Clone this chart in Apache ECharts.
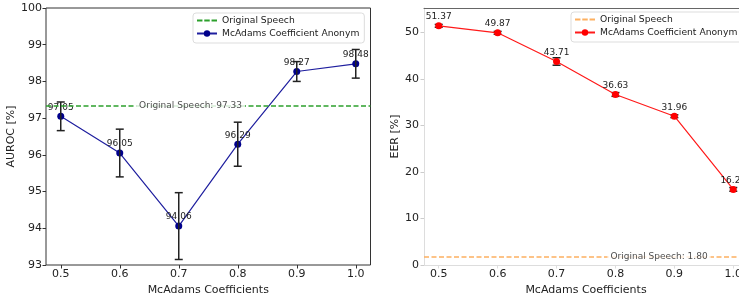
<!DOCTYPE html>
<html>
<head>
<meta charset="utf-8">
<script src="https://cdn.jsdelivr.net/npm/echarts@6/dist/echarts.min.js"></script>
<style>
  html, body { margin: 0; padding: 0; background: #fff; }
  #main { width: 739px; height: 299px; }
</style>
</head>
<body>
<div id="main"></div>
<script>
var coeffs = [0.5, 0.6, 0.7, 0.8, 0.9, 1.0];
var xTicks = [0.5, 0.6, 0.7, 0.8, 0.9, 1.0];

var auroc = [97.05, 96.05, 94.06, 96.29, 98.27, 98.48];
var aurocErr = [0.39, 0.65, 0.91, 0.6, 0.27, 0.39];
var aurocOrig = 97.33;

var eer = [51.37, 49.87, 43.71, 36.63, 31.96, 16.24];
var eerErr = [0.3, 0.3, 0.8, 0.4, 0.3, 0.4];
var eerOrig = 1.80;

var FONT = 'DejaVu Sans';
var DASH_ICON = 'path://M0,0h6v2h-6zM8,0h6v2h-6zM16,0h6v2h-6z';
var chart = echarts.init(document.getElementById('main'));

function pairs(xs, ys) {
    return xs.map(function (x, i) { return [x, ys[i]]; });
}
function errData(xs, ys, es) {
    return xs.map(function (x, i) { return [x, ys[i], es[i]]; });
}

// vertical error bar with caps
function renderErr(params, api) {
    var x = api.value(0), y = api.value(1), e = api.value(2);
    var top = api.coord([x, y + e]);
    var bot = api.coord([x, y - e]);
    var st = { stroke: '#222', lineWidth: 1.5 };
    return {
        type: 'group',
        children: [
            { type: 'line', shape: { x1: top[0], y1: top[1], x2: bot[0], y2: bot[1] }, style: st },
            { type: 'line', shape: { x1: top[0] - 4, y1: top[1], x2: top[0] + 4, y2: top[1] }, style: st },
            { type: 'line', shape: { x1: bot[0] - 4, y1: bot[1], x2: bot[0] + 4, y2: bot[1] }, style: st }
        ]
    };
}

function xAxisFor(idx, lineColor) {
    return {
        type: 'value', gridIndex: idx, min: 0.475, max: 1.025,
        name: 'McAdams Coefficients', nameLocation: 'middle', nameGap: 15,
        nameTextStyle: { fontFamily: FONT, fontSize: 11, color: '#222' },
        splitLine: { show: false },
        axisLine: { show: idx === 1, lineStyle: { color: lineColor, width: 1 } },
        axisTick: { show: true, length: 3.5, inside: false, customValues: xTicks,
            lineStyle: { color: lineColor } },
        axisLabel: { customValues: xTicks, margin: 4, fontFamily: FONT, fontSize: 11, color: '#222',
            formatter: function (v) { return v.toFixed(1); } }
    };
}

function legendFor(names, left, top, dashColor) {
    return {
        data: [
            { name: names[0], icon: DASH_ICON, itemStyle: { color: dashColor } },
            { name: names[1] }
        ],
        left: left, top: top, orient: 'vertical', itemGap: 4, itemWidth: 20, itemHeight: 8,
        padding: [3, 5, 5, 3], backgroundColor: '#fff', borderColor: '#ddd', borderWidth: 1, borderRadius: 3,
        textStyle: { fontFamily: FONT, fontSize: 9.2, color: '#222' }
    };
}

var labelStyle = {
    show: true, position: 'top', distance: 1,
    fontFamily: FONT, fontSize: 9, color: '#222',
    formatter: function (p) { return p.value[1].toFixed(2); }
};

var option = {
    animation: false,
    backgroundColor: '#fff',
    grid: [
        { left: 46, top: 8, width: 324.5, height: 257, show: true, borderColor: '#333', borderWidth: 1,
          outerBoundsMode: 'none' },
        { left: 424, top: 8, width: 324, height: 257, outerBoundsMode: 'none' }
    ],
    legend: [
        legendFor(['Original Speech', 'McAdams Coefficient Anonym'], 193, 13, '#2ca02c'),
        legendFor(['Original Speech ', 'McAdams Coefficient Anonym '], 571, 12, '#fdb060')
    ],
    xAxis: [
        xAxisFor(0, '#333'),
        xAxisFor(1, '#ddd'),
        { type: 'value', gridIndex: 1, position: 'top', min: 0.475, max: 1.025,
          axisLine: { show: true, lineStyle: { color: '#666', width: 1 } },
          axisTick: { show: false }, axisLabel: { show: false }, splitLine: { show: false } }
    ],
    yAxis: [
        {
            type: 'value', gridIndex: 0, min: 93, max: 100, interval: 1,
            name: 'AUROC [%]', nameLocation: 'middle', nameGap: 27,
            nameTextStyle: { fontFamily: FONT, fontSize: 11, color: '#222' },
            splitLine: { show: false },
            axisLine: { show: false },
            axisTick: { show: true, length: 3.5, lineStyle: { color: '#333' } },
            axisLabel: { margin: 4, fontFamily: FONT, fontSize: 11, color: '#222' }
        },
        {
            type: 'value', gridIndex: 1, min: 0, max: 55.2, interval: 10,
            name: 'EER [%]', nameLocation: 'middle', nameGap: 21,
            nameTextStyle: { fontFamily: FONT, fontSize: 11, color: '#222' },
            splitLine: { show: false },
            axisLine: { show: true, lineStyle: { color: '#ddd', width: 1 } },
            axisTick: { show: true, length: 3.5, lineStyle: { color: '#ccc' } },
            axisLabel: { margin: 5, fontFamily: FONT, fontSize: 11, color: '#222',
                showMaxLabel: false }
        }
    ],
    series: [
        // ---- left: AUROC
        {
            name: 'Original Speech', type: 'line', xAxisIndex: 0, yAxisIndex: 0,
            data: [], symbol: 'none',
            itemStyle: { color: '#2ca02c' },
            lineStyle: { color: '#2ca02c', type: [5, 2.5], width: 1.5 },
            markLine: {
                silent: true, symbol: 'none', label: { show: false },
                lineStyle: { color: '#2ca02c', type: [5, 2.5], width: 1.5 },
                data: [{ yAxis: aurocOrig }]
            }
        },
        {
            name: 'McAdams Coefficient Anonym', type: 'line', xAxisIndex: 0, yAxisIndex: 0,
            data: pairs(coeffs, auroc), symbol: 'circle', symbolSize: 7,
            itemStyle: { color: '#00008b' },
            lineStyle: { color: '#1f1f9f', width: 1.2 },
            label: labelStyle, z: 3
        },
        {
            type: 'custom', xAxisIndex: 0, yAxisIndex: 0,
            data: errData(coeffs, auroc, aurocErr), renderItem: renderErr, z: 4, silent: true
        },
        {
            type: 'scatter', xAxisIndex: 0, yAxisIndex: 0, symbolSize: 0, silent: true, z: 5,
            data: [[0.72, aurocOrig]],
            label: { show: true, position: 'inside', formatter: 'Original Speech: ' + aurocOrig.toFixed(2),
                backgroundColor: '#fff', padding: [1, 3], fontFamily: FONT, fontSize: 9, color: '#222' }
        },
        // ---- right: EER
        {
            name: 'Original Speech ', type: 'line', xAxisIndex: 1, yAxisIndex: 1,
            data: [], symbol: 'none',
            itemStyle: { color: '#fdb060' },
            lineStyle: { color: '#fdb060', type: [5, 2.5], width: 1.5 },
            markLine: {
                silent: true, symbol: 'none', label: { show: false },
                lineStyle: { color: '#fdb060', type: [5, 2.5], width: 1.5 },
                data: [{ yAxis: eerOrig }]
            }
        },
        {
            name: 'McAdams Coefficient Anonym ', type: 'line', xAxisIndex: 1, yAxisIndex: 1,
            data: pairs(coeffs, eer), symbol: 'circle', symbolSize: 7,
            itemStyle: { color: '#ff0000' },
            lineStyle: { color: '#ff1a1a', width: 1.2 },
            label: labelStyle, z: 3
        },
        {
            type: 'custom', xAxisIndex: 1, yAxisIndex: 1,
            data: errData(coeffs, eer, eerErr), renderItem: renderErr, z: 2, silent: true
        },
        {
            type: 'scatter', xAxisIndex: 1, yAxisIndex: 1, symbolSize: 0, silent: true, z: 5,
            data: [[0.874, eerOrig]],
            label: { show: true, position: 'inside', formatter: 'Original Speech: ' + eerOrig.toFixed(2),
                backgroundColor: '#fff', padding: [1, 3], fontFamily: FONT, fontSize: 9, color: '#222' }
        }
    ]
};

chart.setOption(option);
</script>
</body>
</html>
